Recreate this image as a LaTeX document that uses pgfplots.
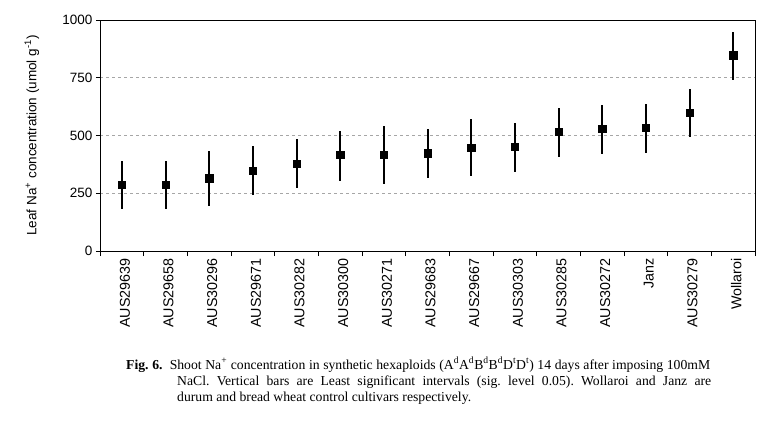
\documentclass[border=0pt]{standalone}
\usepackage{fontspec}
\setmainfont{Liberation Sans}
\newfontfamily\capfont{Liberation Serif}
\usepackage{pgfplots}
\usepackage{pgfplotstable}
\pgfplotsset{compat=1.18}

% mean, upper and lower half-width of the least significant interval
\pgfplotstableread{
x  y    ep   em
0  286  105  106
1  286  105  106
2  315  119  120
3  349  107  107
4  378  108  107
5  418  103  114
6  418  123  127
7  423  107  108
8  447  123  122
9  452  101  110
10 515  103  107
11 531  101  111
12 535  101  109
13 600  101  108
14 848  102  108
}\natab

\begin{document}
\frenchspacing
\begin{tikzpicture}[x=1pt,y=1pt]
  \path[use as bounding box] (0,0) rectangle (782,429);
  \begin{axis}[
      at={(100pt,178pt)}, anchor=south west,
      width=655pt, height=231pt, scale only axis,
      xmin=-0.5, xmax=14.5,
      ymin=0, ymax=1000,
      ytick={0,250,...,1000},
      xtick={0,...,14},
      xticklabels={AUS29639,AUS29658,AUS30296,AUS29671,AUS30282,AUS30300,AUS30271,AUS29683,AUS29667,AUS30303,AUS30285,AUS30272,Janz,AUS30279,Wollaroi},
      minor xtick={-0.5,0.5,...,14.5},
      xtick pos=left, ytick pos=left,
      tick align=outside,
      major tick length=4pt,
      minor tick length=5pt,
      major x tick style={draw=none},
      tick style={black, line width=0.8pt},
      axis line style={line width=0.9pt},
      ymajorgrids,
      grid style={dashed, gray!70, line width=0.6pt},
      /pgf/number format/assume math mode=true,
      /pgf/number format/1000 sep={},
      yticklabel style={font=\fontsize{13.5}{16}\selectfont},
      xticklabel style={font=\fontsize{14.3}{16}\selectfont, rotate=90, anchor=east, yshift=-3pt},
      ylabel={Leaf Na\textsuperscript{+} concentration (umol g\textsuperscript{-1})},
      ylabel style={font=\fontsize{13.5}{16}\selectfont, at={(axis description cs:-0.104,0.5)}, anchor=center},
    ]
    \addplot[only marks, mark=square*, mark size=3.6pt, black,
      error bars/.cd, y dir=both, y explicit,
      error bar style={line width=2pt}, error mark=none]
      table[x=x, y=y, y error plus=ep, y error minus=em]{\natab};
  \end{axis}
  \begin{scope}[every node/.style={anchor=base west, inner sep=0pt, font=\capfont\fontsize{13.7}{16}\selectfont}]
    \node at (126,60) {\makebox[584pt][s]{\textbf{Fig. 6.}\ \ Shoot Na\textsuperscript{+} concentration in synthetic hexaploids (A\textsuperscript{d}A\textsuperscript{d}B\textsuperscript{d}B\textsuperscript{d}D\textsuperscript{t}D\textsuperscript{t}) 14 days after imposing 100mM}};
    \node at (177,44) {\makebox[534pt][s]{NaCl. Vertical bars are Least significant intervals (sig. level 0.05). Wollaroi and Janz are}};
    \node at (177,28) {durum and bread wheat control cultivars respectively.};
  \end{scope}
\end{tikzpicture}
\end{document}
